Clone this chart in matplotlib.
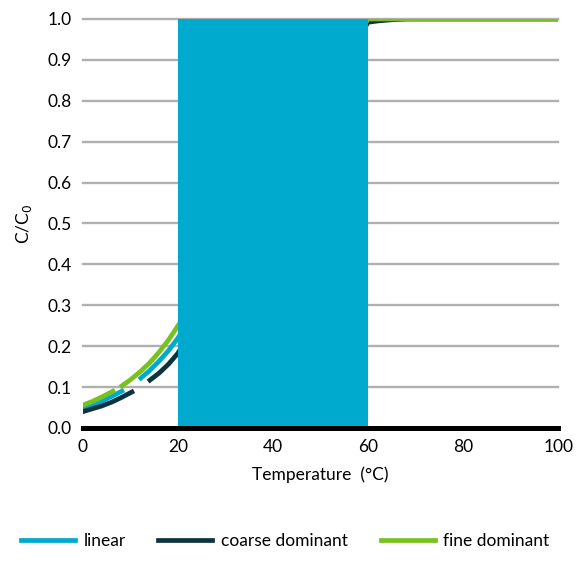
import numpy as np
import matplotlib.pyplot as plt

plt.rcParams['font.family'] = ['Lato', 'DejaVu Sans']

# curve values (nan = gap in the drawn line)
lin_x = [0, 2, 4, 6, 8.2, np.nan, 12.2, 14, 16, 18, 20, 60, 100]
lin_y = [0.049, 0.057, 0.066, 0.077, 0.090, np.nan, 0.122, 0.140, 0.163, 0.189, 0.220, 1.0, 1.0]

coarse_x = [0, 2, 4, 6, 8, 10.3, np.nan, 14.1, 16, 18, 20, 60, 62, 65, 68, 100]
coarse_y = [0.040, 0.047, 0.054, 0.063, 0.074, 0.088, np.nan, 0.117, 0.134, 0.156, 0.183,
            0.992, 0.995, 0.998, 1.0, 1.0]

fine_x = [0, 2, 4, 6.3, np.nan, 8.2, 10, 12, 14, 16, 18, 20, 60, 100]
fine_y = [0.056, 0.065, 0.076, 0.090, np.nan, 0.103, 0.118, 0.137, 0.159, 0.185, 0.215, 0.250, 1.0, 1.0]

band = (20, 60)
yticks = np.arange(0, 1.01, 0.1)
xticks = [0, 20, 40, 60, 80, 100]

c_lin = '#00a9ce'
c_coarse = '#0b3341'
c_fine = '#78c11f'

fig = plt.figure(figsize=(5.76, 5.65), dpi=100)
ax = fig.add_axes([0.144, 0.2425, 0.825, 0.724])

ax.plot(lin_x, lin_y, color=c_lin, lw=3.4, label='linear', zorder=3)
ax.plot(coarse_x, coarse_y, color=c_coarse, lw=3.4, label='coarse dominant', zorder=3)
ax.plot(fine_x, fine_y, color=c_fine, lw=3.4, label='fine dominant', zorder=4)
ax.axvspan(band[0], band[1], color=c_lin, zorder=5, lw=0)
ax.axhline(0, color='black', lw=3.6, zorder=6, clip_on=False)

ax.set_xlim(0, 100)
ax.set_ylim(0, 1)
ax.set_yticks(yticks)
ax.set_yticklabels(['%.1f' % v for v in yticks])
ax.set_xticks(xticks)
for v in yticks[1:]:
    ax.axhline(v, color='#b0b0b0', lw=1.7, zorder=1, clip_on=False)
for s in ax.spines.values():
    s.set_visible(False)
ax.tick_params(length=0, labelsize=12.5, pad=8)
ax.set_xlabel('Temperature  (°C)', fontsize=12.5, labelpad=8)
ax.set_ylabel('C/C$_0$', fontsize=12.5, labelpad=10)

fig.legend(loc='lower center', bbox_to_anchor=(0.495, 0.0), ncol=3, frameon=False,
           fontsize=12.5, handlelength=3.1, columnspacing=1.9, handletextpad=0.5)

fig.savefig('out.png', dpi=100)
